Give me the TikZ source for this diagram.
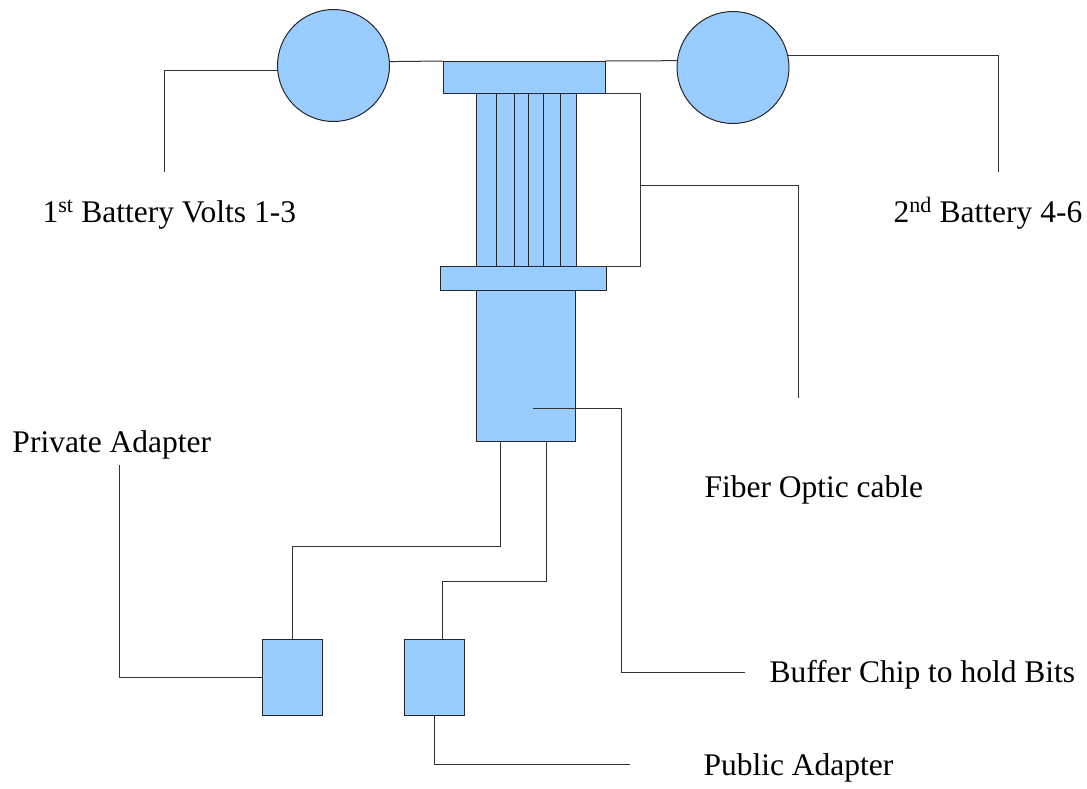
\documentclass[tikz,border=0pt]{standalone}
\usepackage{fontspec}
\setmainfont{Liberation Serif}
\usepackage{tikz}
\usetikzlibrary{shapes.geometric}
\definecolor{partblue}{HTML}{99CCFF}

\begin{document}
\begin{tikzpicture}[x=1pt,y=-1pt,line width=1pt,
   part/.style={draw=black!85,fill=partblue,rectangle,inner sep=0pt,outer sep=0pt},
   cell/.style={part,ellipse,minimum width=112pt,minimum height=112pt},
   wire/.style={draw=black!80,line width=1pt},
   lbl/.style={anchor=base west,inner sep=0pt,font=\fontsize{31.5}{36}\selectfont}]
\useasboundingbox (0,0) rectangle (1087,788);
% batteries and the two end caps
\node[cell] (bat1) at (333.5,65.5) {};
\node[cell] (bat2) at (733,67.5) {};
\node[part,minimum width=162pt,minimum height=32pt] (cap1) at (524,77) {};
\node[part,minimum width=166pt,minimum height=24pt] (cap2) at (523,278) {};
\node[part,minimum width=99pt,minimum height=151pt] (chip) at (525.5,365.5) {};
\foreach \l/\r [count=\i] in %
{476/496,496/514,514/528,528/543,543/560,560/576} {
   \node[part,anchor=north west,minimum width={(\r-\l)*1pt},minimum height=173pt] (s\i) at (\l,93) {};
}
\node[part,minimum width=60pt,minimum height=76pt] (priv) at (292,677) {};
\node[part,minimum width=60pt,minimum height=76pt] (pub) at (434,677) {};
% labels
\node[lbl] (t1) at (42,222) {1\textsuperscript{st} Battery Volts 1-3};
\node[lbl] (t2) at (893,222) {2\textsuperscript{nd} Battery 4-6};
\node[lbl] (tpriv) at (12,452) {Private Adapter};
\node[lbl] (tfib) at (704,497) {Fiber Optic cable};
\node[lbl] (tbuf) at (769,682) {Buffer Chip to hold Bits};
\node[lbl] (tpub) at (703,775) {Public Adapter};
% free ends of the leader lines
\coordinate (e1) at (164,172);
\coordinate (e2) at (998,172);
\coordinate (brk) at (640,266);
\coordinate (brkmid) at (640,185);
\coordinate (efib) at (798,398);
\coordinate (dot) at (533,408);
\coordinate (bufturn) at (621,672);
\coordinate (ebuf) at (745,672);
\coordinate (epriv) at (119,465);
\coordinate (epub) at (630,764);
\draw[wire] (bat1.185) -| (e1);
\draw[wire] (bat2.12) -| (e2);
\draw[wire] (bat1.4) -- (cap1.north west);
\draw[wire] (cap1.north east) -- (bat2.173);
\draw[wire] (cap1.south east) -| (brk) -- (s6.south east);
\draw[wire] (brkmid) -| (efib);
\draw[wire] (dot) -| (bufturn) -- (ebuf);
\draw[wire] ([xshift=24pt]chip.south west) -- ++(0,105) -| (priv.north);
\draw[wire] ([xshift=70pt]chip.south west) -- ++(0,140) -| ([xshift=8pt]pub.north);
\draw[wire] (priv.west) -| (epriv);
\draw[wire] (pub.south) |- (epub);
\end{tikzpicture}
\end{document}
